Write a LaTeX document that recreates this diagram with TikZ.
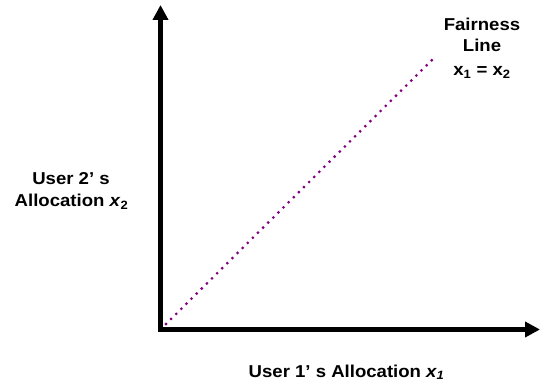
\documentclass[tikz,border=0pt]{standalone}
\usepackage{fontspec}
\setmainfont{Liberation Sans}[FakeStretch=1.08]
\usetikzlibrary{arrows.meta}
\definecolor{fairpurple}{RGB}{128,0,128}
\tikzset{
  axis/.style={line width=5pt, line join=miter,
    {Triangle[length=15pt,width=15pt]}-{Triangle[length=15pt,width=15pt]}},
  fairline/.style={fairpurple, line width=3.1pt, line cap=round,
    dash pattern=on 0pt off 7.2pt},
  lbl/.style={font=\fontsize{17.2}{20}\selectfont\bfseries, inner sep=0pt, anchor=base}
}
\begin{document}
\begin{tikzpicture}[x=1pt,y=-1pt]
  \useasboundingbox (0,0) rectangle (542,387);
  % axes
  \coordinate (O) at (160.5,329.5);
  \coordinate (ytip) at (160.5,5);
  \coordinate (xtip) at (540,329.5);
  \draw[axis] (ytip) -- (O) -- (xtip);
  % fairness line
  \coordinate (f0) at (166,324);
  \coordinate (f1) at (432,60);
  \draw[fairline] (f0) -- (f1);
  % labels
  \node[lbl] (fa) at (482,30.7) {Fairness};
  \node[lbl] (fb) at (482,51.7) {Line};
  \node[lbl] (fc) at (482,76) {x\textsubscript{1} = x\textsubscript{2}};
  \node[lbl] (ya) at (71,185) {User 2’ s};
  \node[lbl] (yb) at (71.5,206.7) {Allocation \textit{x}\textsubscript{2}};
  \node[lbl] (xa) at (346.5,377.3) {User 1’ s Allocation \textit{x\textsubscript{1}}};
\end{tikzpicture}
\end{document}
